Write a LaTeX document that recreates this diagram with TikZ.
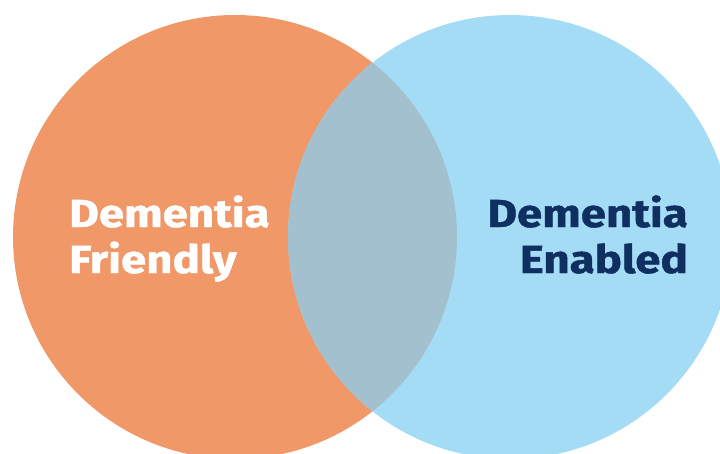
\documentclass[tikz,border=0pt]{standalone}
\usepackage{fontspec}
\newfontfamily\vennfont{Fira Sans}[FakeStretch=1.17, FakeBold=1.2]

\definecolor{friendlyorange}{HTML}{F09868}
\definecolor{enabledblue}{HTML}{A5DCF5}
\definecolor{overlapgrey}{HTML}{A3C0CE}
\definecolor{enablednavy}{HTML}{0E2F60}

\tikzset{
  venn/.style={circle, minimum size=444pt, inner sep=0pt},
  label text/.style={font=\vennfont\fontsize{39}{46}\selectfont\bfseries, inner sep=0pt}
}

\begin{document}
\begin{tikzpicture}[x=1pt,y=-1pt]
        \useasboundingbox (0,0) rectangle (720,453);
        \clip (0,0) rectangle (720,453);
        \node[venn, fill=friendlyorange] (friendly) at (235,237) {};
        \node[venn, fill=enabledblue] (enabled) at (510,237) {};
        % overlap of the two circles
        \begin{scope}
            \clip (friendly.center) circle (222);
            \fill[overlapgrey] (enabled.center) circle (222);
        \end{scope}
        \node[label text, text=white, align=left, anchor=base west] (friendlytext) at (69,273) {Dementia\\Friendly};
        \node[label text, text=enablednavy, align=right, anchor=base east] (enabledtext) at (688,273) {Dementia\\Enabled};
    \end{tikzpicture}
\end{document}
